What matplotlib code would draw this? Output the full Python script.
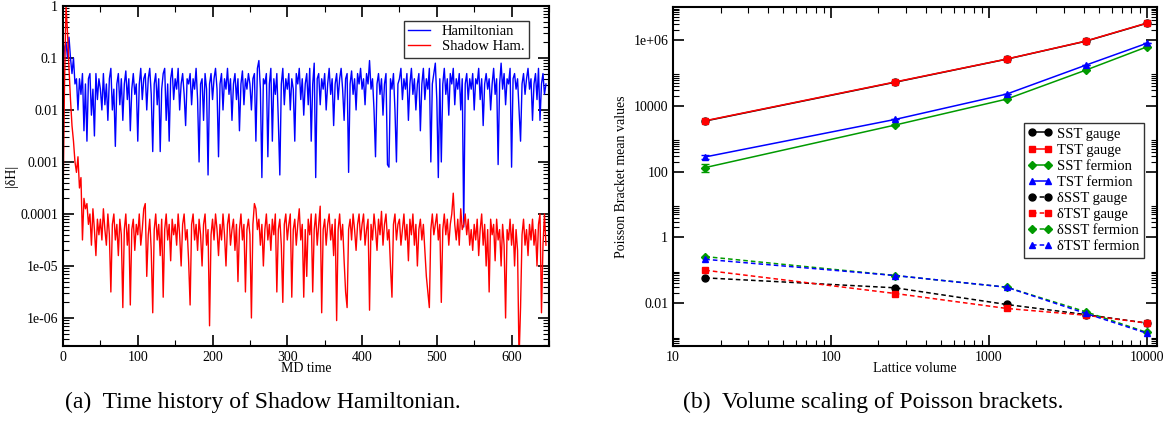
import numpy as np
import matplotlib
matplotlib.use("Agg")
import matplotlib.pyplot as plt
from matplotlib.ticker import FixedLocator, FixedFormatter, LogLocator, NullFormatter, MultipleLocator

plt.rcParams['font.family'] = ['Liberation Serif', 'DejaVu Serif']

# ---- panel (a): |dH| history, log10 values every 2 MD units
md_time = np.arange(0, 648, 2)

log_dh_ham = [
    -1.2, -0.8, -0.7, -1.0, -0.6, -1.0, -1.3, -1.0, -1.5, -1.4, -2.0, -1.4, -1.7, -1.3, -2.4, -1.5, -2.6, -1.4, -1.3, -2.1, -1.6, -2.5, -1.3, -1.8, -1.4,
    -1.6, -2.0, -1.3, -1.9, -1.5, -2.2, -1.4, -1.2, -2.0, -1.6, -2.7, -1.5, -1.3, -1.9, -1.4, -2.2, -1.5, -1.25, -1.8, -1.4, -2.4, -1.6, -1.3, -1.7, -1.5,
    -2.6, -1.5, -1.2, -1.8, -1.4, -1.3, -2.0, -1.4, -1.2, -1.7, -2.8, -1.5, -1.3, -1.9, -1.4, -2.8, -1.6, -1.3, -1.2, -2.2, -1.5, -2.6, -1.4, -1.2, -1.8,
    -1.4, -1.6, -1.2, -2.0, -1.5, -1.3, -1.7, -2.3, -1.4, -1.5, -1.3, -1.9, -1.4, -1.6, -1.2, -1.8, -3.0, -1.5, -1.4, -2.2, -1.3, -1.6, -3.25, -1.5, -1.3,
    -1.8, -1.4, -1.2, -1.6, -2.9, -1.5, -1.3, -2.0, -1.4, -1.6, -1.2, -1.7, -1.4, -2.2, -1.5, -1.3, -1.8, -1.4, -2.4, -1.5, -1.25, -1.9, -1.4, -1.6, -1.3,
    -1.5, -2.0, -1.4, -1.3, -2.6, -1.2, -1.05, -1.6, -3.3, -1.4, -1.5, -1.3, -2.9, -1.5, -1.2, -2.6, -1.4, -1.7, -1.3, -2.2, -3.25, -1.5, -1.2, -1.9, -1.4,
    -1.6, -1.3, -2.0, -1.4, -1.6, -2.6, -1.3, -1.5, -1.2, -1.8, -1.4, -2.1, -1.5, -1.3, -1.9, -1.2, -2.6, -1.5, -1.1, -3.3, -1.4, -1.3, -1.9, -1.4, -1.6,
    -1.3, -2.0, -1.5, -1.2, -1.7, -1.4, -2.3, -1.5, -1.3, -1.8, -1.4, -1.2, -1.6, -2.2, -1.4, -1.3, -3.2, -1.5, -1.25, -1.7, -1.4, -2.0, -1.3, -1.5, -1.2,
    -1.6, -1.4, -1.9, -1.3, -1.5, -1.05, -1.6, -1.4, -2.0, -2.9, -1.5, -1.3, -1.7, -1.4, -2.1, -1.5, -1.3, -3.05, -3.1, -1.4, -1.6, -1.3, -2.0, -3.0, -1.5,
    -1.4, -1.2, -1.8, -1.4, -1.6, -1.3, -2.2, -1.5, -1.2, -1.7, -1.4, -2.0, -1.5, -1.3, -2.4, -1.5, -1.2, -1.8, -1.4, -1.6, -1.2, -3.0, -1.5, -1.3, -1.1,
    -1.8, -3.3, -1.4, -3.0, -1.5, -1.2, -1.7, -1.4, -2.1, -1.3, -1.5, -1.2, -1.9, -1.4, -1.6, -1.3, -2.0, -1.4, -4.25, -1.5, -1.3, -1.8, -1.4, -1.6, -1.3,
    -2.0, -1.4, -1.5, -1.2, -1.8, -1.4, -2.3, -1.5, -1.3, -1.6, -1.4, -2.0, -1.5, -1.2, -1.7, -1.4, -3.05, -1.5, -1.1, -1.6, -1.3, -1.9, -1.4, -1.5, -1.2,
    -3.1, -1.4, -1.3, -1.6, -1.4, -2.0, -2.6, -1.5, -1.3, -1.7, -1.4, -1.2, -1.6, -1.4, -2.2, -1.5, -1.3, -1.8, -1.2, -2.2, -1.5, -1.3, -1.7, -1.5,
]

log_dh_shadow = [
    -3.8, -1.5, 0.0, -0.5, -1.2, -1.8, -2.3, -2.6, -3.0, -3.2, -2.9, -3.5, -3.3, -4.5, -3.7, -3.9, -3.8, -4.2, -4.0, -4.6, -3.9, -4.3, -4.8, -4.1, -4.4,
    -4.1, -4.5, -3.9, -4.3, -4.6, -4.0, -4.4, -5.5, -4.2, -4.0, -4.5, -4.2, -4.8, -4.1, -4.4, -5.8, -4.3, -4.0, -4.6, -4.2, -5.75, -4.3, -4.1, -4.7, -4.2,
    -4.4, -4.0, -4.6, -4.3, -3.9, -3.8, -5.2, -4.4, -4.1, -4.7, -5.9, -4.3, -4.0, -4.5, -4.2, -4.8, -4.1, -5.6, -4.3, -4.0, -4.5, -4.2, -4.9, -4.1, -4.4,
    -4.2, -4.6, -4.0, -4.4, -5.0, -4.2, -4.0, -4.5, -4.3, -4.9, -5.75, -4.2, -4.0, -4.5, -4.2, -4.7, -4.1, -4.4, -5.0, -4.2, -4.0, -4.6, -4.3, -6.15, -4.4,
    -4.1, -4.5, -4.0, -4.3, -4.8, -4.2, -4.5, -4.0, -4.4, -5.0, -4.2, -4.0, -4.6, -4.3, -4.1, -4.7, -4.2, -5.3, -4.3, -4.0, -4.5, -4.2, -5.5, -4.3, -4.1,
    -4.4, -6.0, -4.2, -3.8, -3.9, -4.3, -4.1, -4.6, -4.2, -5.0, -4.3, -4.0, -4.5, -4.2, -4.7, -4.1, -4.4, -4.0, -5.5, -4.3, -4.1, -4.6, -5.7, -4.2, -4.0,
    -4.5, -4.2, -4.0, -5.6, -4.3, -4.1, -4.6, -4.2, -3.9, -4.5, -4.2, -5.6, -4.3, -5.2, -4.1, -4.4, -4.0, -5.5, -4.3, -4.0, -4.6, -4.2, -3.85, -5.9, -4.3,
    -4.1, -4.6, -4.2, -4.0, -4.5, -4.2, -4.8, -4.1, -6.05, -4.3, -4.0, -4.5, -4.2, -4.9, -5.5, -5.8, -4.3, -4.1, -4.5, -4.0, -4.3, -4.7, -4.2, -4.0, -4.5,
    -4.2, -4.0, -4.6, -4.3, -4.1, -5.85, -4.2, -4.5, -4.0, -4.3, -4.7, -4.1, -4.4, -3.95, -4.6, -4.2, -4.0, -4.5, -4.3, -5.0, -5.6, -4.2, -4.0, -4.5, -4.2,
    -4.1, -4.6, -4.3, -4.0, -4.5, -4.2, -4.9, -4.1, -4.4, -4.0, -4.6, -4.2, -5.0, -4.3, -4.1, -4.5, -4.2, -4.7, -5.2, -5.5, -5.8, -4.3, -4.0, -4.4, -4.2,
    -4.0, -4.5, -4.2, -5.7, -4.3, -4.0, -4.4, -4.1, -4.6, -4.2, -4.0, -3.6, -4.2, -4.5, -4.1, -4.6, -3.9, -4.3, -4.2, -4.0, -4.4, -4.1, -4.6, -4.3, -4.7,
    -4.2, -4.5, -4.1, -4.8, -4.3, -4.0, -4.6, -4.2, -5.0, -4.3, -5.5, -4.1, -4.4, -4.2, -4.9, -4.1, -4.5, -4.3, -5.0, -4.2, -4.6, -6.0, -4.3, -4.5, -4.1,
    -4.6, -4.2, -5.0, -4.3, -4.7, -6.8, -5.8, -4.4, -4.1, -4.6, -4.3, -4.8, -4.2, -4.5, -4.1, -4.6, -4.3, -5.0, -4.2, -4.0, -5.9, -4.6, -4.0, -4.6,
]

# ---- panel (b): Poisson bracket volume scaling
volume = [16, 256, 1296, 4096, 10000]
sst_gauge = [3430, 52000, 260000, 910000, 3.2e6]
tst_gauge = [3500, 53000, 262000, 920000, 3.25e6]
sst_fermion = [132, 2600, 15900, 120000, 614000]
sst_fermion_err = [35, 0, 0, 0, 0]
tst_fermion = [278, 3850, 22600, 170000, 790000]
tst_fermion_err = [40, 0, 0, 0, 0]
d_sst_gauge = [0.0586, 0.0292, 0.0091, 0.0045, 0.00248]
d_tst_gauge = [0.0999, 0.0196, 0.0069, 0.0043, 0.00248]
d_sst_fermion = [0.26, 0.069, 0.0305, 0.0055, 0.00129]
d_tst_fermion = [0.215, 0.069, 0.0305, 0.0049, 0.00122]

green = '#009a00'

fig = plt.figure(figsize=(11.67, 4.25), dpi=100)
ax1 = fig.add_axes([0.054, 0.186, 0.4164, 0.80])
ax2 = fig.add_axes([0.5767, 0.186, 0.4147, 0.7975])


def grace_style(ax):
    for s in ax.spines.values():
        s.set_linewidth(1.5)
    ax.tick_params(which='both', direction='in', top=True, right=True, labelsize=10)
    ax.tick_params(which='major', length=8, width=1.2)
    ax.tick_params(which='minor', length=4, width=0.8)


# panel (a)
ax1.plot(md_time, 10 ** np.array(log_dh_ham), color='blue', lw=1.0, label='Hamiltonian')
ax1.plot(md_time, 10 ** np.array(log_dh_shadow), color='red', lw=1.0, label='Shadow Ham.')
ax1.set_yscale('log')
ax1.set_xlim(0, 650)
ax1.set_ylim(2.9e-7, 1)
ax1.xaxis.set_major_locator(MultipleLocator(100))
ax1.xaxis.set_minor_locator(MultipleLocator(50))
ytk = [1e-6, 1e-5, 1e-4, 1e-3, 1e-2, 0.1, 1]
ax1.yaxis.set_major_locator(FixedLocator(ytk))
ax1.yaxis.set_major_formatter(FixedFormatter(['1e-06', '1e-05', '0.0001', '0.001', '0.01', '0.1', '1']))
ax1.yaxis.set_minor_locator(LogLocator(base=10, subs=np.arange(2, 10), numticks=20))
ax1.yaxis.set_minor_formatter(NullFormatter())
grace_style(ax1)
ax1.set_xlabel('MD time', fontsize=10, labelpad=-1)
ax1.set_ylabel('|δH|', fontsize=10, labelpad=2)
leg1 = ax1.legend(loc='upper right', bbox_to_anchor=(0.959, 0.956), borderaxespad=0, fontsize=10.5,
                  frameon=True, fancybox=False, edgecolor='black', handlelength=1.5, borderpad=0.3,
                  labelspacing=0.1, handletextpad=0.8)
leg1.get_frame().set_linewidth(1.0)

# panel (b)
styles = [
    (sst_gauge, 'black', 'o', '-', 'SST gauge'),
    (tst_gauge, 'red', 's', '-', 'TST gauge'),
    (sst_fermion, green, 'D', '-', 'SST fermion'),
    (tst_fermion, 'blue', '^', '-', 'TST fermion'),
    (d_sst_gauge, 'black', 'o', (0, (3, 2)), 'δSST gauge'),
    (d_tst_gauge, 'red', 's', (0, (3, 2)), 'δTST gauge'),
    (d_sst_fermion, green, 'D', (0, (3, 2)), 'δSST fermion'),
    (d_tst_fermion, 'blue', '^', (0, (3, 2)), 'δTST fermion'),
]
for vals, col, mk, ls, lab in styles:
    ax2.plot(volume, vals, color=col, marker=mk, ms=4.5 if mk == 'D' else 5, lw=1.1, ls=ls, label=lab)
ax2.errorbar(volume, sst_fermion, yerr=sst_fermion_err, fmt='none', ecolor=green, elinewidth=1.0, capsize=3)
ax2.errorbar(volume, tst_fermion, yerr=tst_fermion_err, fmt='none', ecolor='blue', elinewidth=1.0, capsize=3)
ax2.set_xscale('log')
ax2.set_yscale('log')
ax2.set_xlim(10, 11600)
ax2.set_ylim(5e-4, 1e7)
ax2.xaxis.set_major_locator(FixedLocator([10, 100, 1000, 10000]))
ax2.xaxis.set_major_formatter(FixedFormatter(['10', '100', '1000', '10000']))
ax2.xaxis.set_minor_locator(LogLocator(base=10, subs=np.arange(2, 10), numticks=20))
ax2.xaxis.set_minor_formatter(NullFormatter())
ax2.yaxis.set_major_locator(FixedLocator([0.01, 1, 100, 1e4, 1e6]))
ax2.yaxis.set_major_formatter(FixedFormatter(['0.01', '1', '100', '10000', '1e+06']))
ax2.yaxis.set_minor_locator(FixedLocator([m * 10.0 ** e for e in (-4, -2, 0, 2, 4, 6) for m in range(2, 10)]))
ax2.yaxis.set_minor_formatter(NullFormatter())
grace_style(ax2)
ax2.set_xlabel('Lattice volume', fontsize=10, labelpad=-1)
ax2.set_ylabel('Poisson Bracket mean values', fontsize=10, labelpad=4)
leg2 = ax2.legend(loc='upper right', bbox_to_anchor=(0.973, 0.658), borderaxespad=0, fontsize=10.5,
                  frameon=True, fancybox=False, edgecolor='black', numpoints=2, handlelength=1.7,
                  borderpad=0.3, labelspacing=0.2, handletextpad=0.3)
leg2.get_frame().set_linewidth(1.0)

fig.text(0.2254, 0.054, '(a)  Time history of Shadow Hamiltonian.', ha='center', va='center', fontsize=17)
fig.text(0.748, 0.054, '(b)  Volume scaling of Poisson brackets.', ha='center', va='center', fontsize=17)

fig.savefig('out.png', dpi=100)
